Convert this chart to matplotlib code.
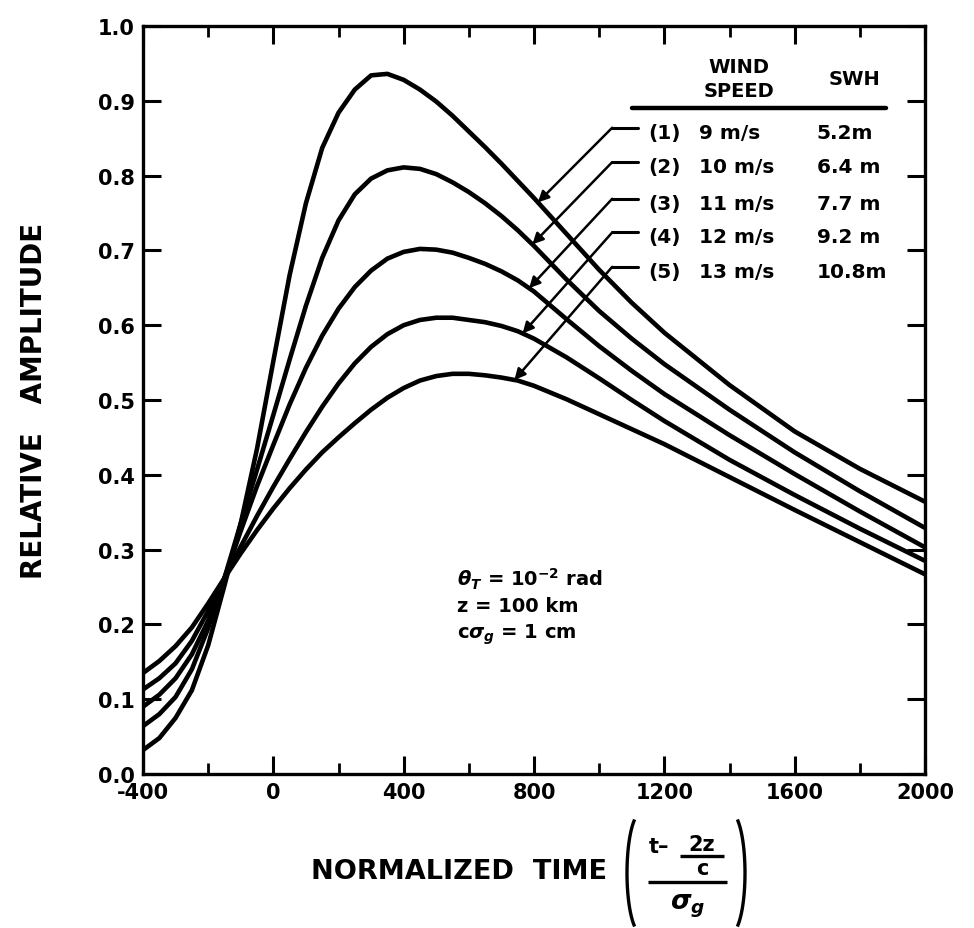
import numpy as np
import matplotlib
matplotlib.use("Agg")
import matplotlib.pyplot as plt

# ---------------- data ----------------
time = [-400, -350, -300, -250, -200, -150, -100, -50, 0, 50, 100, 150, 200,
        250, 300, 350, 400, 450, 500, 550, 600, 650, 700, 750, 800, 900,
        1000, 1100, 1200, 1400, 1600, 1800, 2000]

amp_9ms = [.032, .048, .075, .112, .172, .252, .335, .435, .552, .667, .763, .837, .884,
           .915, .934, .936, .928, .915, .899, .880, .859, .838, .816, .793, .770, .722,
           .674, .630, .590, .520, .458, .408, .364]
amp_10ms = [.064, .080, .103, .140, .195, .262, .335, .407, .480, .554, .626, .690, .740,
            .775, .796, .807, .811, .809, .802, .791, .778, .763, .746, .727, .706, .661,
            .619, .582, .548, .487, .430, .378, .329]
amp_11ms = [.090, .106, .128, .160, .205, .262, .325, .385, .440, .494, .543, .586, .622,
            .651, .673, .689, .698, .702, .701, .697, .690, .682, .672, .660, .645, .608,
            .572, .539, .508, .453, .401, .351, .303]
amp_12ms = [.113, .128, .148, .178, .218, .262, .304, .345, .384, .421, .457, .491, .522,
            .549, .571, .588, .600, .607, .610, .610, .607, .604, .599, .592, .582, .557,
            .529, .500, .472, .420, .373, .328, .285]
amp_13ms = [.135, .151, .171, .196, .228, .262, .295, .326, .355, .382, .407, .430, .450,
            .469, .487, .503, .516, .526, .532, .535, .535, .533, .530, .526, .519, .501,
            .481, .461, .441, .397, .353, .310, .267]

case_ids = ["(1)", "(2)", "(3)", "(4)", "(5)"]
wind_speeds = ["9 m/s", "10 m/s", "11 m/s", "12 m/s", "13 m/s"]
swh = ["5.2m", "6.4 m", "7.7 m", "9.2 m", "10.8m"]
arrow_tip_time = [812, 795, 785, 765, 740]

x_ticks = [-400, 0, 400, 800, 1200, 1600, 2000]
x_minor = [-200, 200, 600, 1000, 1400, 1800]
y_ticks = [0.0, 0.1, 0.2, 0.3, 0.4, 0.5, 0.6, 0.7, 0.8, 0.9, 1.0]

series = [amp_9ms, amp_10ms, amp_11ms, amp_12ms, amp_13ms]

# ---------------- figure ----------------
plt.rcParams['font.family'] = ['DejaVu Sans']
plt.rcParams['font.weight'] = 'bold'
plt.rcParams['mathtext.fontset'] = 'custom'
plt.rcParams['mathtext.rm'] = 'DejaVu Sans:bold'
plt.rcParams['mathtext.it'] = 'DejaVu Sans:italic:bold'
plt.rcParams['mathtext.bf'] = 'DejaVu Sans:bold'

W, H = 974, 929
fig = plt.figure(figsize=(W / 100, H / 100), dpi=100)
ax = fig.add_axes([143 / W, 1 - 775 / H, (925 - 143) / W, (775 - 27) / H])

for s in series:
    ax.plot(time, s, color='black', lw=3.3, solid_joinstyle='round', solid_capstyle='round')

ax.set_xlim(-400, 2000)
ax.set_ylim(0, 1.0)
ax.set_xticks(x_ticks)
ax.set_xticks(x_minor, minor=True)
ax.set_yticks(y_ticks)
ax.set_xticklabels([str(v) for v in x_ticks], fontsize=15, fontweight='bold')
ax.set_yticklabels(['%.1f' % v for v in y_ticks], fontsize=15, fontweight='bold')
ax.tick_params(axis='both', which='major', direction='in', length=13, width=2.2,
               top=True, right=True, pad=6)
ax.tick_params(axis='x', which='minor', direction='in', length=8, width=2.0, top=True)
ax.tick_params(axis='y', which='minor', left=False, right=False)
for sp in ax.spines.values():
    sp.set_linewidth(2.4)

ax.set_ylabel('RELATIVE   AMPLITUDE', fontsize=20, fontweight='bold', labelpad=36)

# legend table
ax.text(1430, 0.930, 'WIND\nSPEED', ha='center', va='center', fontsize=14,
        fontweight='bold', linespacing=1.3)
ax.text(1785, 0.930, 'SWH', ha='center', va='center', fontsize=14, fontweight='bold')
ax.plot([1100, 1880], [0.89, 0.89], color='black', lw=3.2, solid_capstyle='round')

row_y = [0.858, 0.812, 0.763, 0.718, 0.672]
for i in range(5):
    ry = row_y[i]
    ax.text(1200, ry, case_ids[i], ha='center', va='center', fontsize=14.5, fontweight='bold')
    ax.text(1305, ry, wind_speeds[i], ha='left', va='center', fontsize=14.5, fontweight='bold')
    ax.text(1668, ry, swh[i], ha='left', va='center', fontsize=14.5, fontweight='bold')
    tip_x = arrow_tip_time[i]
    tip_y = float(np.interp(tip_x, time, series[i]))
    elbow_x = 1040
    ax.plot([1120, elbow_x], [ry + 0.006, ry + 0.006], color='black', lw=2.2,
            solid_capstyle='round')
    ax.annotate('', xy=(tip_x, tip_y), xytext=(elbow_x, ry + 0.006),
                arrowprops=dict(arrowstyle='-|>', color='black', lw=1.8,
                                mutation_scale=16, shrinkA=0, shrinkB=0))

# parameter note
ax.text(565, 0.262, r'$\theta_T$ = 10$^{-2}$ rad', ha='left', va='center', fontsize=14)
ax.text(565, 0.225, 'z = 100 km', ha='left', va='center', fontsize=14, fontweight='bold')
ax.text(565, 0.187, r'c$\sigma_g$ = 1 cm', ha='left', va='center', fontsize=14, fontweight='bold')

# ---------------- x label with fraction (overlay in pixel coordinates) ----------------
ov = fig.add_axes([0, 0, 1, 1], facecolor='none')
ov.set_xlim(0, W)
ov.set_ylim(H, 0)
ov.axis('off')

ov.text(459, 872, 'NORMALIZED  TIME', ha='center', va='center',
        fontsize=19.5, fontweight='bold')
# parentheses (gently curved strokes)
eta_l = np.deg2rad(np.linspace(120, 240, 40))
eta_r = np.deg2rad(np.linspace(-60, 60, 40))
ov.plot(641 + 14 * np.cos(eta_l), 874 + 60 * np.sin(eta_l), color='black', lw=2.4)
ov.plot(731 + 14 * np.cos(eta_r), 874 + 60 * np.sin(eta_r), color='black', lw=2.4)
# numerator: t - 2z/c
ov.text(659, 847, 't\u2013', ha='center', va='center', fontsize=15, fontweight='bold')
ov.text(702, 845, '2z', ha='center', va='center', fontsize=15, fontweight='bold')
ov.plot([680, 724], [857, 857], color='black', lw=2.4, solid_capstyle='butt')
ov.text(702, 869, 'c', ha='center', va='center', fontsize=15, fontweight='bold')
# main fraction bar
ov.plot([648, 727], [883, 883], color='black', lw=2.4, solid_capstyle='butt')
# denominator
ov.text(688, 906, r'$\sigma_g$', ha='center', va='center', fontsize=19)

fig.savefig('out.png', dpi=100)
